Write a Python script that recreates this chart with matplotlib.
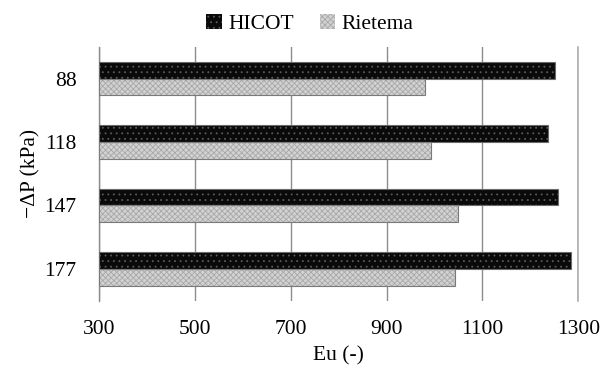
import numpy as np
import matplotlib
matplotlib.use("Agg")
import matplotlib.pyplot as plt
from matplotlib.patches import Patch

plt.rcParams['font.family'] = ['Liberation Serif', 'DejaVu Serif']
plt.rcParams['hatch.linewidth'] = 0.6

# data
pressure = ['88', '118', '147', '177']
hicot = [1251, 1236, 1258, 1284]
rietema = [980, 992, 1048, 1043]

label_font = 15.5
bar_h = 0.264

fig = plt.figure(figsize=(6.14, 3.72), dpi=100)
ax = fig.add_axes([0.161, 0.192, 0.781, 0.682])

y = np.arange(len(pressure))

# HICOT: black with fine light dots
ax.barh(y - bar_h / 2, np.array(hicot) - 300, left=300, height=bar_h,
        color='#0a0a0a', edgecolor='#5a5a5a', hatch='...', linewidth=0, zorder=3)
ax.barh(y - bar_h / 2, np.array(hicot) - 300, left=300, height=bar_h,
        fill=False, edgecolor='#6a6a6a', linewidth=0.8, zorder=4)

# Rietema: light grey with fine texture
ax.barh(y + bar_h / 2, np.array(rietema) - 300, left=300, height=bar_h,
        color='#d2d2d2', edgecolor='#a8a8a8', hatch='xxxxxx', linewidth=0, zorder=3)
ax.barh(y + bar_h / 2, np.array(rietema) - 300, left=300, height=bar_h,
        fill=False, edgecolor='#7a7a7a', linewidth=0.8, zorder=4)

ax.set_xlim(300, 1300)
ax.set_ylim(len(pressure) - 0.5, -0.5)
ax.set_xticks(range(300, 1301, 200))
ax.set_yticks(y)
ax.set_yticklabels(pressure)
ax.tick_params(length=0, labelsize=label_font)
ax.tick_params(axis='x', pad=14)
ax.tick_params(axis='y', pad=16)

ax.grid(axis='x', color='#8c8c8c', linewidth=1.0, zorder=0)
ax.axvline(1300, color='#b0b0b0', linewidth=1.2, clip_on=False, zorder=0)
for s in ['top', 'right', 'bottom']:
    ax.spines[s].set_visible(False)
ax.spines['left'].set_color('#8c8c8c')
ax.spines['left'].set_linewidth(1.0)

ax.set_xlabel('Eu (-)', fontsize=label_font, labelpad=5)
ax.set_ylabel('\u2212\u0394P (kPa)', fontsize=label_font, labelpad=3)

handles = [Patch(facecolor='#0a0a0a', edgecolor='#5a5a5a', hatch='...', linewidth=0),
           Patch(facecolor='#d2d2d2', edgecolor='#a8a8a8', hatch='xxxxxx', linewidth=0)]
fig.legend(handles, ['HICOT', 'Rietema'], loc='upper center', bbox_to_anchor=(0.505, 1.015),
           ncol=2, frameon=False, fontsize=label_font, handlelength=0.72, handleheight=0.72,
           handletextpad=0.3, columnspacing=1.2)

fig.savefig('out.png', dpi=100)
